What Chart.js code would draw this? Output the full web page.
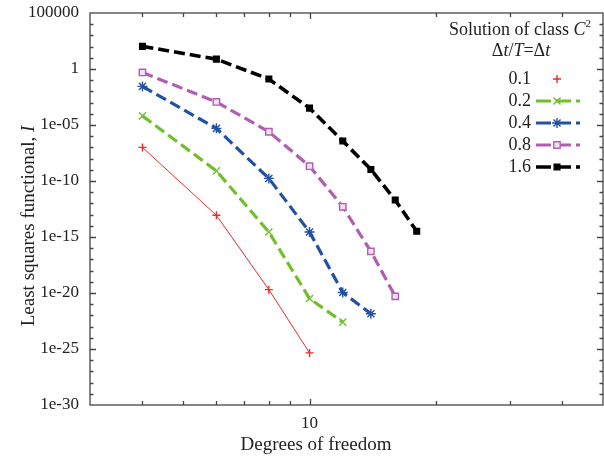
<!DOCTYPE html>
<html>
<head>
<meta charset="utf-8">
<script src="https://cdn.jsdelivr.net/npm/chart.js@4.4.1/dist/chart.umd.min.js"></script>
<style>
  html, body { margin: 0; padding: 0; background: #fff; }
  #wrap { width: 604px; height: 456px; }
</style>
</head>
<body>
<div id="wrap"><canvas id="lsq"></canvas></div>
<script>
// degrees of freedom (x) and the least squares functional I for each time step
const dof = [4, 6, 8, 10, 12, 14, 16, 18];
const stepLabels = ['0.1', '0.2', '0.4', '0.8', '1.6'];

const I_01 = [1e-7, 8.7e-14, 2e-20, 4.5e-26];
const I_02 = [6.5e-5, 8e-10, 2.8e-15, 3.2e-21, 2.5e-23];
const I_04 = [2.8e-2, 5e-6, 1.7e-10, 2.8e-15, 1.1e-20, 1.4e-22];
const I_08 = [0.49, 1.15e-3, 2.5e-6, 2.1e-9, 5e-13, 5.2e-17, 5e-21];
const I_16 = [105, 7.6, 0.126, 3.2e-4, 3.7e-7, 1.07e-9, 2e-12, 3.2e-15];

// axis ticks
const xTicks = [3, 4, 5, 6, 7, 8, 9, 10, 20, 30, 40, 50];
const xTickLabels = { 10: '10' };
const yDecades = [];
for (let k = -30; k <= 5; k++) yDecades.push(k);
const yTickLabels = { 5: '100000', 0: '1', '-5': '1e-05', '-10': '1e-10', '-15': '1e-15',
  '-20': '1e-20', '-25': '1e-25', '-30': '1e-30' };

const textColor = '#222';
const axisColor = '#444';
const serif = 'Liberation Serif, Times New Roman, serif';

function series(label, values, color, width, dash, style, radius, fill) {
  return {
    label: label,
    data: values.map((v, i) => ({ x: dof[i], y: v })),
    borderColor: color,
    borderWidth: width,
    borderDash: dash,
    pointStyle: style,
    pointRadius: radius,
    pointBorderColor: color,
    pointBackgroundColor: fill || color,
    pointBorderWidth: 1.4,
    tension: 0
  };
}

const datasets = [
  series(stepLabels[0], I_01, '#ec2b2b', 1, [], 'cross', 4),
  series(stepLabels[1], I_02, '#72bf2e', 3.2, [11, 5], 'crossRot', 5),
  series(stepLabels[2], I_04, '#2250a3', 3.2, [11, 5], 'star', 5),
  series(stepLabels[3], I_08, '#b05fb0', 3.2, [11, 5], 'rect', 4.5, '#f4e0f4'),
  series(stepLabels[4], I_16, '#000000', 3.6, [11, 5], 'rect', 4)
];

// scales keep their labels but must not push the plot box around
function noPad(s) {
  s.paddingTop = 0; s.paddingBottom = 0; s.paddingLeft = 0; s.paddingRight = 0;
}

// write a line made of normal / italic / superscript pieces, centred on cx
function richLine(ctx, parts, cx, cy, size) {
  const fontOf = p => (p.italic ? 'italic ' : '') + (p.sup ? Math.round(size * 0.62) : size) + 'px ' + serif;
  let total = 0;
  parts.forEach(p => { ctx.font = fontOf(p); total += ctx.measureText(p.t).width; });
  let x = cx - total / 2;
  parts.forEach(p => {
    ctx.font = fontOf(p);
    ctx.fillText(p.t, x, p.sup ? cy - 6 : cy);
    x += ctx.measureText(p.t).width;
  });
}

// box with inward ticks on all four sides, plus the axis titles
const frame = {
  id: 'frame',
  afterDraw(chart) {
    const ctx = chart.ctx;
    const a = chart.chartArea;
    const xs = chart.scales.x, ys = chart.scales.y;
    ctx.save();
    ctx.strokeStyle = axisColor;
    ctx.lineWidth = 1.3;
    ctx.strokeRect(a.left, a.top, a.right - a.left, a.bottom - a.top);
    ctx.beginPath();
    xTicks.forEach(v => {
      if (v === 3 || v === 50) return;
      const px = Math.round(xs.getPixelForValue(v)) + 0.5;
      const len = xTickLabels[v] ? 6 : 4;
      ctx.moveTo(px, a.bottom); ctx.lineTo(px, a.bottom - len);
      ctx.moveTo(px, a.top); ctx.lineTo(px, a.top + len);
    });
    yDecades.forEach(k => {
      if (k === -30 || k === 5) return;
      const py = Math.round(ys.getPixelForValue(Math.pow(10, k))) + 0.5;
      const len = yTickLabels[k] ? 6 : 3.5;
      ctx.moveTo(a.left, py); ctx.lineTo(a.left + len, py);
      ctx.moveTo(a.right, py); ctx.lineTo(a.right - len, py);
    });
    ctx.stroke();

    ctx.fillStyle = textColor;
    ctx.textAlign = 'left';
    ctx.textBaseline = 'middle';
    richLine(ctx, [{ t: 'Degrees of freedom' }], 316, 445, 19);
    ctx.translate(29, 226);
    ctx.rotate(-Math.PI / 2);
    richLine(ctx, [{ t: 'Least squares functional, ' }, { t: 'I', italic: true }], 0, 0, 19);
    ctx.restore();
  }
};

const legendBox = {
  id: 'legendBox',
  afterDraw(chart) {
    const ctx = chart.ctx;
    ctx.save();
    ctx.fillStyle = textColor;
    ctx.textAlign = 'left';
    ctx.textBaseline = 'middle';
    richLine(ctx, [{ t: 'Solution of class ' }, { t: 'C', italic: true }, { t: '2', sup: true }], 520, 30, 18);
    richLine(ctx, [{ t: 'Δ' }, { t: 't', italic: true }, { t: '/' }, { t: 'T', italic: true },
      { t: '=Δ' }, { t: 't', italic: true }], 521, 51, 18);
    chart.data.datasets.forEach((ds, i) => {
      const y = 79 + i * 22;
      ctx.font = '18px ' + serif;
      ctx.fillStyle = textColor;
      ctx.textAlign = 'right';
      ctx.fillText(ds.label, 531, y);
      if (i > 0) {
        ctx.strokeStyle = ds.borderColor;
        ctx.lineWidth = ds.borderWidth;
        ctx.setLineDash([15, 5]);
        ctx.beginPath();
        ctx.moveTo(536, y); ctx.lineTo(580, y);
        ctx.stroke();
        ctx.setLineDash([]);
      }
      ctx.strokeStyle = ds.pointBorderColor;
      ctx.fillStyle = ds.pointBackgroundColor;
      ctx.lineWidth = ds.pointBorderWidth;
      Chart.helpers.drawPoint(ctx, { pointStyle: ds.pointStyle, radius: ds.pointRadius, rotation: 0,
        borderWidth: ds.pointBorderWidth }, 557, y);
    });
    ctx.restore();
  }
};

new Chart(document.getElementById('lsq'), {
  type: 'line',
  data: { datasets: datasets },
  options: {
    responsive: true,
    maintainAspectRatio: false,
    animation: false,
    layout: { autoPadding: false, padding: { top: 13, right: 1, left: 0, bottom: 0 } },
    plugins: { legend: { display: false }, tooltip: { enabled: false } },
    scales: {
      x: {
        type: 'logarithmic',
        min: 3,
        max: 50,
        afterBuildTicks: s => { s.ticks = xTicks.map(v => ({ value: v })); },
        afterFit: s => { s.height = 51; noPad(s); },
        grid: { display: false, drawTicks: false },
        border: { display: false },
        ticks: {
          autoSkip: false, maxRotation: 0, padding: 8, color: textColor,
          font: { family: serif, size: 17 },
          callback: v => xTickLabels[v] || ''
        }
      },
      y: {
        type: 'logarithmic',
        min: 1e-30,
        max: 1e5,
        afterBuildTicks: s => { s.ticks = yDecades.map(k => ({ value: Math.pow(10, k) })); },
        afterFit: s => { s.width = 90; noPad(s); },
        grid: { display: false, drawTicks: false },
        border: { display: false },
        ticks: {
          autoSkip: false, padding: 11, color: textColor,
          font: { family: serif, size: 17 },
          callback: (v, i) => yTickLabels[yDecades[i]] || ''
        }
      }
    }
  },
  plugins: [frame, legendBox]
});
</script>
</body>
</html>
